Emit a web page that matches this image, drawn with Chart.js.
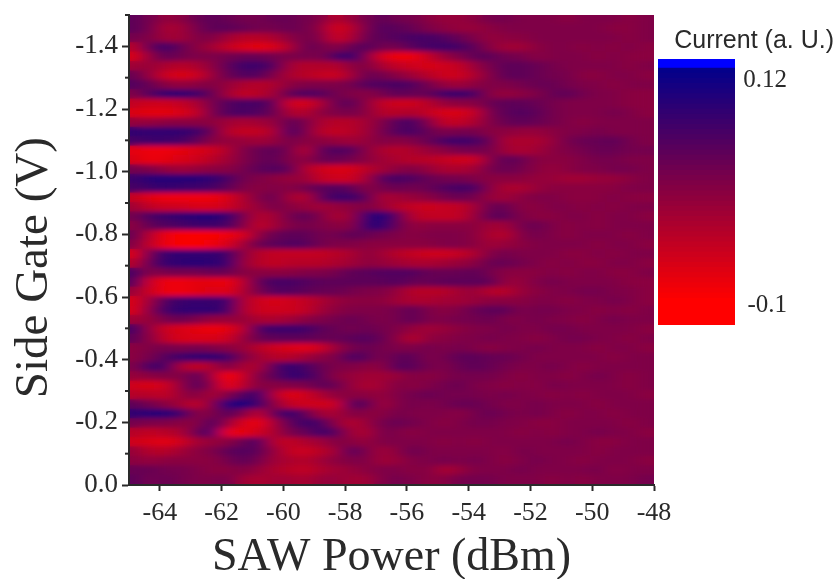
<!DOCTYPE html>
<html><head><meta charset="utf-8">
<script src="https://cdn.jsdelivr.net/npm/chart.js@4"></script>
<style>
html,body{margin:0;padding:0;background:#fff;width:837px;height:579px;overflow:hidden}
canvas{position:absolute;display:block}
</style></head><body>
<svg width="0" height="0" style="position:absolute"><filter id="streak" x="0" y="0" width="100%" height="100%"><feGaussianBlur stdDeviation="9 2.8"/></filter></svg>
<canvas id="map" width="837" height="579" style="left:0;top:0;width:837px;height:579px"></canvas>
<canvas id="bar" width="194" height="320" style="left:640px;top:20px;width:194px;height:320px"></canvas>
<script>
// Current, in hundredths of an arbitrary unit. Top row first (Side Gate -1.5 V).
const r00=[5,3,0,1,4,5,4,3,3,4,4,3,2,-3,0,3,5,3,3,1,0,0,1,3,3,2,2,2,1,2,2,2,1,2];
const r01=[5,3,-2,-1,3,5,5,4,3,3,4,3,1,-6,-3,3,6,5,4,2,1,0,0,1,2,2,2,2,2,2,2,1,1,2];
const r02=[3,2,-1,-1,2,2,-1,-3,-3,-2,1,3,2,-5,-2,4,5,6,7,7,6,4,2,0,1,1,2,2,2,2,2,2,1,2];
const r03=[-3,5,8,4,1,-1,-4,-6,-7,-6,-2,4,3,1,4,6,3,3,6,7,8,7,5,1,-1,-1,1,2,2,1,2,1,2,1];
const r04=[-6,1,5,3,2,2,3,4,4,3,2,3,2,7,9,2,-6,-8,-8,-4,0,2,5,5,3,3,1,2,2,2,1,2,1,1];
const r05=[-1,0,-2,-3,-2,1,5,8,8,6,-1,-3,-2,-3,1,2,-2,-4,-5,-6,-5,-4,0,3,5,5,4,3,2,2,2,2,1,2];
const r06=[4,0,-5,-6,-5,0,4,6,6,2,-2,-3,-4,-5,-1,4,3,1,-1,-3,-5,-5,-2,2,5,5,4,3,3,1,1,2,2,1];
const r07=[6,4,1,0,1,2,0,-2,-3,-2,1,2,2,2,3,6,6,7,6,3,0,-1,1,2,2,3,4,4,3,2,2,1,2,2];
const r08=[2,6,9,9,8,4,-1,-4,-3,-1,5,6,6,3,2,1,3,5,4,4,8,8,7,1,0,1,2,4,5,3,2,2,1,1];
const r09=[-4,-5,-5,-4,-2,3,6,7,7,5,-5,-6,-2,4,5,1,-4,-5,-5,-3,0,1,1,4,5,5,4,3,2,2,2,2,1,1];
const r10=[-6,-7,-7,-6,-4,3,6,7,6,4,-2,-3,1,2,3,1,-3,-3,-2,-4,-6,-6,-4,3,5,6,5,3,2,2,2,3,2,1];
const r11=[0,0,1,1,1,1,-1,-2,-1,0,5,3,-2,-3,-3,-1,2,6,7,2,-4,-4,-2,2,4,5,4,3,2,1,2,2,2,2];
const r12=[9,9,9,9,8,4,-3,-4,-4,-2,7,3,-3,-4,-3,-1,3,6,7,4,2,3,3,1,1,0,0,1,2,2,3,2,2,2];
const r13=[7,8,8,7,5,1,0,0,-1,0,3,1,1,0,-1,0,2,1,2,4,7,8,7,4,-2,-2,-2,0,3,4,4,5,3,2];
const r14=[-7,-8,-8,-7,-6,-5,-2,2,4,5,3,-3,5,6,6,1,-2,-3,-2,0,1,3,3,3,-1,-2,-1,1,2,3,4,4,3,3];
const r15=[-6,-8,-7,-6,-5,-3,-1,2,4,5,2,0,4,4,3,1,-1,-2,-3,-3,-4,-5,-5,2,5,4,1,1,1,2,3,3,2,2];
const r16=[3,2,0,-1,0,1,1,3,5,6,5,-2,-5,-6,-6,-3,-1,1,2,0,-2,-2,-1,3,4,3,1,0,1,2,2,3,3,2];
const r17=[8,10,10,10,10,9,7,3,2,1,0,0,-4,-5,-5,-1,6,7,6,4,3,3,2,1,1,1,0,0,-1,-1,0,0,1,2];
const r18=[7,8,9,8,8,7,5,2,1,2,1,3,5,6,5,1,3,4,3,4,6,7,7,1,-2,-2,0,1,1,1,1,1,2,2];
const r19=[-4,-7,-8,-8,-8,-8,-6,-2,2,4,-1,-3,5,8,8,5,-2,-1,0,1,3,4,3,0,-1,1,2,2,1,1,1,2,1,1];
const r20=[-1,-4,-5,-5,-6,-6,-5,-2,0,3,1,0,-1,0,1,2,0,-3,-4,-5,-4,-4,-1,4,4,1,1,2,2,1,2,1,2,2];
const r21=[3,7,8,9,10,10,9,3,-3,-1,3,5,2,-2,0,9,11,5,-3,-4,-4,-4,0,5,5,2,1,1,2,2,1,2,2,1];
const r22=[1,5,6,7,8,8,7,2,-4,-1,2,3,2,1,1,9,10,4,0,1,1,1,1,-1,-1,3,4,2,1,2,1,2,2,2];
const r23=[4,-3,-8,-9,-9,-9,-8,-6,1,4,5,5,3,3,5,4,3,2,1,2,2,2,1,-2,-3,2,3,2,1,2,2,2,1,2];
const r24=[2,-4,-8,-9,-9,-8,-6,-1,4,5,6,6,3,2,2,1,1,1,1,1,2,2,1,-1,0,1,2,2,2,2,1,2,2,1];
const r25=[-6,4,9,9,9,9,8,1,-3,-4,-4,-4,-4,-3,-2,1,-1,-3,-4,-5,-5,-4,-2,2,3,2,2,2,1,1,2,1,2,2];
const r26=[-3,5,9,9,10,9,9,0,-3,-4,-3,-3,-3,-2,-1,1,0,-1,-2,-2,-1,0,1,4,4,3,2,1,2,1,1,2,2,1];
const r27=[7,1,3,3,3,4,4,1,1,1,1,2,2,3,5,5,6,6,6,4,4,4,5,3,1,1,1,2,1,2,2,1,1,2];
const r28=[6,-5,-8,-8,-7,-7,-8,-3,5,7,7,6,5,5,5,5,5,6,4,4,5,5,5,5,0,0,2,3,2,2,2,2,1,1];
const r29=[0,-5,-8,-8,-7,-6,-7,-2,3,6,6,5,4,4,3,2,2,0,-3,-3,-3,-1,0,-3,-3,0,1,2,2,3,3,2,2,1];
const r30=[-6,0,7,8,9,8,9,-2,-5,-6,-5,-4,-2,0,1,1,1,-1,-2,-2,-1,-1,0,1,1,1,2,2,1,2,2,3,2,1];
const r31=[-6,2,8,9,9,9,8,-2,-5,-5,-5,-4,-1,1,2,2,2,3,5,2,1,2,4,5,5,2,3,3,2,2,1,2,1,2];
const r32=[-1,0,3,4,2,0,0,0,-2,-2,-1,1,2,3,4,3,2,3,5,2,2,3,3,4,2,2,3,2,2,1,2,3,2,2];
const r33=[7,0,-5,-6,-7,-8,-7,-3,7,8,8,8,5,4,3,4,3,2,0,-1,0,1,2,2,3,2,2,3,3,2,2,2,2,1];
const r34=[5,1,-4,-6,-6,-6,-5,0,4,5,5,5,4,4,5,6,4,1,-3,1,1,2,2,3,2,2,1,2,3,3,2,2,1,2];
const r35=[1,2,3,2,3,2,1,0,-3,-5,-6,-7,-5,0,3,4,3,2,2,3,2,3,2,1,2,2,3,2,2,2,1,2,2,1];
const r36=[1,3,6,8,9,9,8,2,-1,-3,-3,-1,1,2,7,5,2,5,5,2,3,5,5,4,4,3,2,2,2,2,2,1,2,2];
const r37=[2,8,7,-2,-4,-2,3,-2,-2,6,9,7,4,2,2,1,1,6,5,3,2,4,5,4,3,2,2,3,2,1,2,2,2,2];
const r38=[0,1,2,1,6,-1,-10,-4,2,5,9,8,5,1,0,-1,-1,0,2,1,2,3,3,3,2,1,2,2,1,2,3,2,1,2];
const r39=[-5,-6,-5,1,6,1,-8,-3,2,1,2,2,5,4,0,-2,-1,2,1,2,3,4,2,2,1,2,1,3,2,2,2,2,1,2];
const r40=[-3,-3,-4,0,2,-2,2,6,9,-2,-7,-5,-2,1,1,1,0,2,3,4,3,3,3,2,3,2,2,1,2,1,2,2,2,1];
const r41=[5,3,1,-1,-4,2,11,11,8,1,-4,-5,-5,-5,6,5,-1,2,3,2,3,4,4,3,2,2,3,2,2,2,1,2,2,2];
const r42=[9,10,10,8,1,2,6,2,-4,5,9,5,-1,-2,2,1,1,3,2,2,2,1,3,4,3,2,3,2,1,2,2,1,2,2];
const r43=[3,2,2,1,1,7,0,-6,-8,-1,5,8,7,1,-3,0,3,4,3,2,1,2,3,3,2,2,1,1,2,2,2,2,1,2];
const r44=[-3,-4,-3,-2,4,8,-8,-7,-5,-2,3,4,8,6,-1,-2,3,2,1,2,2,2,2,2,2,1,2,1,2,2,3,2,2,1];
const r45=[-5,-6,-7,-5,-1,0,1,4,7,-3,-4,-2,-1,2,1,0,2,2,2,2,1,2,1,2,2,2,2,2,3,2,1,1,2,2];
const r46=[0,-3,-3,-1,1,2,5,6,5,0,-4,-5,-3,-1,6,2,-1,1,4,2,2,2,2,2,1,3,2,2,2,2,1,2,2,2];
const r47=[1,0,1,1,1,1,3,5,3,-1,-2,-3,-1,1,2,2,-1,0,2,2,3,2,3,2,1,2,3,2,2,1,2,2,2,1];
const r48=[4,4,3,3,2,1,1,2,0,-2,-3,-4,-2,-1,0,1,2,2,1,2,-2,0,2,2,2,3,2,2,2,2,3,1,2,2];
const r49=[5,3,4,3,2,2,3,-1,-2,-1,-1,-2,0,0,-1,-1,2,3,2,1,1,3,3,3,2,2,2,1,2,1,2,2,2,3];
const currentRows=[r00,r01,r02,r03,r04,r05,r06,r07,r08,r09,r10,r11,r12,r13,r14,r15,r16,r17,r18,r19,r20,r21,r22,r23,r24,r25,r26,r27,r28,r29,r30,r31,r32,r33,r34,r35,r36,r37,r38,r39,r40,r41,r42,r43,r44,r45,r46,r47,r48,r49];

const powerStart=-65, powerStep=0.5;          // dBm per column
const gateStart=-1.5, gateStep=0.03;          // V per row
const powerTicks=[-64,-62,-60,-58,-56,-54,-52,-50,-48];
const gateTicks=[-1.4,-1.2,-1.0,-0.8,-0.6,-0.4,-0.2,0.0];
const gateMinorTicks=[-1.5,-1.3,-1.1,-0.9,-0.7,-0.5,-0.3,-0.1];
const scaleLevels=[-12,-11.5,-11,-10.5,-10,-9.5,-9,-8.5,-8,-7.5,-7,-6.5,-6,-5.5,-5,-4.5,-4,-3.5,-3,-2.5,-2,-1.5,-1,-0.5,0,0.5,1,1.5,2,2.5,3,3.5,4,4.5,5,5.5,6,6.5,7,7.5,8,8.5,9,9.5,10,10.5,11,11.5,12,12.5,13,13.5,14];
const scaleTicks=[0.12,-0.1];

function colour(c){
  if(c>=13.35) return 'rgb(0,0,255)';
  const t=Math.max(0,Math.min(1,(c+9.5)/22.85));
  return `rgb(${Math.round(255*(1-t))},0,${Math.round(140*t)})`;
}
const serif='"Liberation Serif","Times New Roman",serif';
const ink='#2a2a2a';

const cells=[],cellColours=[];
currentRows.forEach((row,i)=>row.forEach((c,j)=>{
  cells.push({x:powerStart+powerStep*(j+0.5),y:[gateStart+gateStep*i,gateStart+gateStep*(i+1)]});
  cellColours.push(colour(c));
}));

const smear={id:'smear',afterDatasetsDraw(chart){
  const a=chart.chartArea,w=Math.round(a.right-a.left),h=Math.round(a.bottom-a.top);
  const tmp=document.createElement('canvas');tmp.width=w;tmp.height=h;
  tmp.getContext('2d').drawImage(chart.canvas,a.left,a.top,w,h,0,0,w,h);
  const ctx=chart.ctx;ctx.save();
  ctx.beginPath();ctx.rect(a.left,a.top,w,h);ctx.clip();
  ctx.filter='url(#streak)';ctx.drawImage(tmp,a.left,a.top);
  ctx.restore();
}};
const minorTicks={id:'minorTicks',afterDraw(chart){
  const s=chart.scales.y,ctx=chart.ctx;ctx.save();
  ctx.strokeStyle=ink;ctx.lineWidth=2;
  gateMinorTicks.forEach(v=>{const p=s.getPixelForValue(v);
    ctx.beginPath();ctx.moveTo(s.right-4,p);ctx.lineTo(s.right,p);ctx.stroke();});
  ctx.restore();
}};
const labelEdge={id:'labelEdge',afterLayout(chart){
  const s=chart.scales.y; s.right=s.left+52; s._labelItems=null;
}};

new Chart(document.getElementById('map'),{
  type:'bar',
  data:{datasets:[{data:cells,backgroundColor:cellColours,borderWidth:0,barThickness:17,inflateAmount:1,grouped:false}]},
  options:{
    responsive:false,animation:false,devicePixelRatio:1,
    layout:{padding:{left:0,top:15,right:183,bottom:0}},
    plugins:{legend:{display:false},tooltip:{enabled:false},title:{display:false}},
    scales:{
      x:{type:'linear',min:-65,max:-48,offset:false,
        afterBuildTicks(s){s.ticks=powerTicks.map(v=>({value:v}));},
        afterFit(s){s.height=94;s.paddingLeft=0;s.paddingRight=0;},
        grid:{offset:false,drawOnChartArea:false,tickLength:6,tickColor:ink,tickWidth:2,z:1},
        border:{color:ink,width:2,z:1},
        ticks:{font:{family:serif,size:26},color:ink,padding:7,maxRotation:0,autoSkip:false,
          callback:v=>String(v)},
        title:{display:true,text:'SAW Power (dBm)',font:{family:serif,size:46,lineHeight:0.9},color:ink,padding:{top:0,bottom:0}}
      },
      y:{type:'linear',min:-1.5,max:0,reverse:true,
        afterBuildTicks(s){s.ticks=gateTicks.map(v=>({value:v}));},
        afterFit(s){s.width=129;s.paddingTop=0;s.paddingBottom=0;},
        grid:{drawOnChartArea:false,tickLength:7,tickColor:ink,tickWidth:2,z:1},
        border:{color:ink,width:2,z:1},
        ticks:{font:{family:serif,size:27},color:ink,padding:4,autoSkip:false,
          callback:v=>v.toFixed(1)},
        title:{display:true,text:'Side Gate (V)   ',font:{family:serif,size:47,lineHeight:1},color:ink,padding:{top:11,bottom:0}}
      }
    }
  },
  plugins:[smear,minorTicks]
});

const bandCells=scaleLevels.map(c=>({x:0,y:[(c-0.25)/100,(c+0.25)/100]}));
new Chart(document.getElementById('bar'),{
  type:'bar',
  data:{datasets:[{data:bandCells,backgroundColor:scaleLevels.map(colour),borderWidth:0,barThickness:77,inflateAmount:0.5,grouped:false}]},
  options:{
    responsive:false,animation:false,devicePixelRatio:1,
    layout:{padding:{left:18,top:0,right:0,bottom:15}},
    plugins:{legend:{display:false},tooltip:{enabled:false},
      title:{display:true,text:'Current (a. U.)',align:'end',font:{family:'"Liberation Sans",Arial,sans-serif',size:25,weight:'normal',lineHeight:1.2},color:ink,padding:{top:6,bottom:3}}},
    scales:{
      x:{type:'linear',min:-0.5,max:0.5,display:false},
      y:{type:'linear',position:'right',min:-0.1196,max:0.1405,
        afterBuildTicks(s){s.ticks=scaleTicks.map(v=>({value:v}));},
        afterFit(s){s.width=99;s.paddingTop=0;s.paddingBottom=0;},
        grid:{display:false},border:{display:false},
        ticks:{font:{family:serif,size:25},color:ink,padding:8,crossAlign:'far',autoSkip:false,callback:v=>String(v)}
      }
    }
  },
  plugins:[labelEdge]
});
</script>
</body></html>
